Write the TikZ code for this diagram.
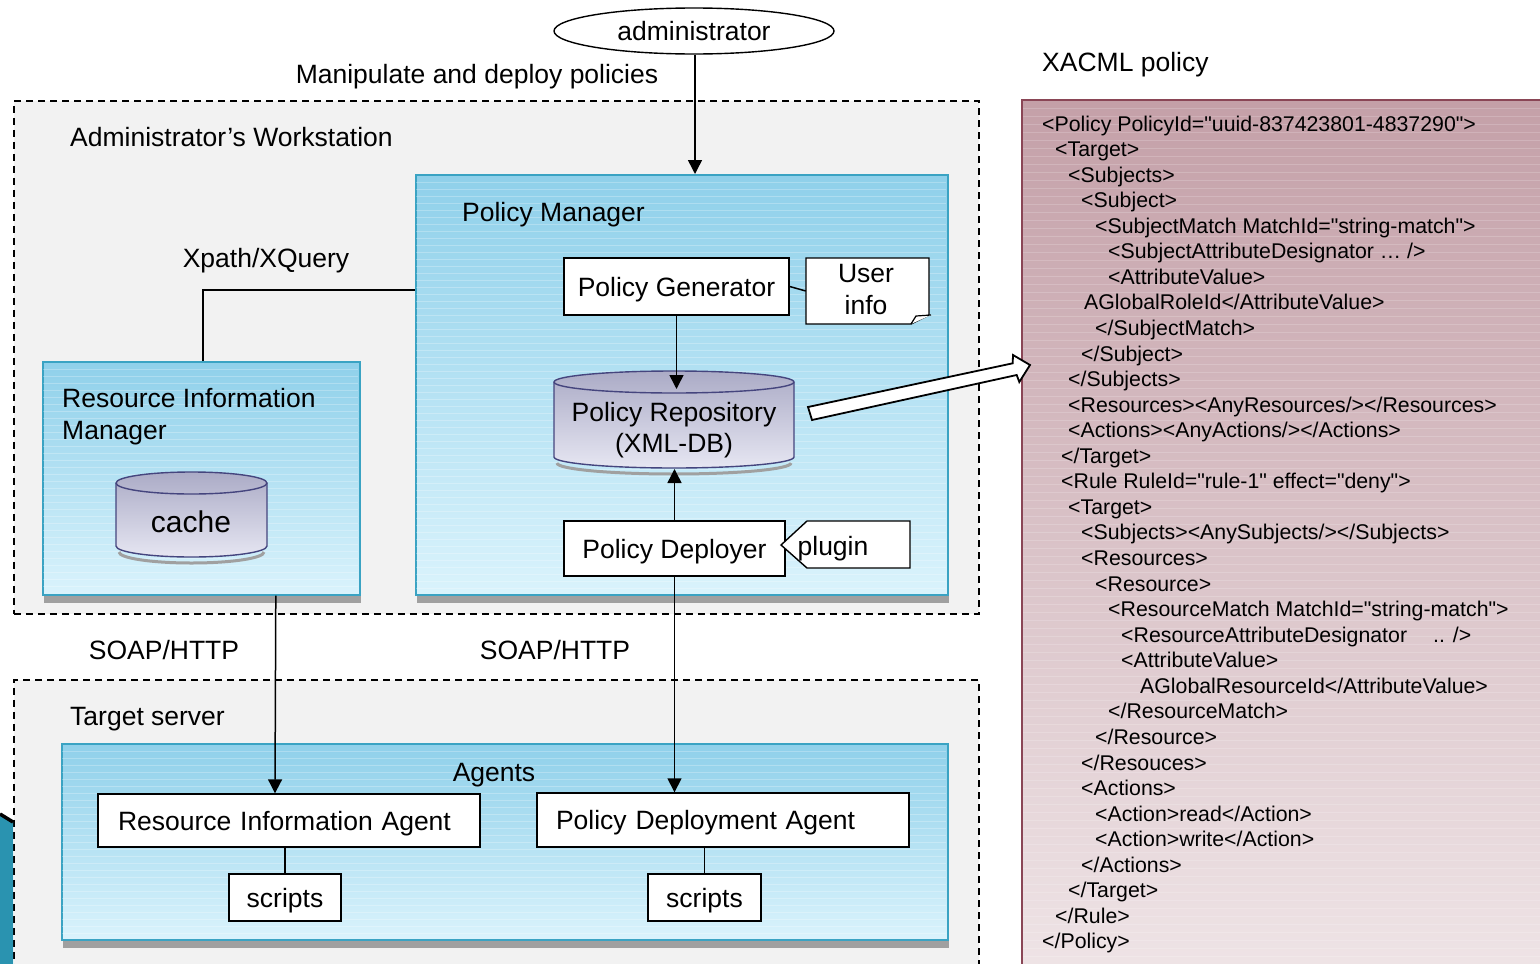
\documentclass[tikz,border=0pt]{standalone}
\usepackage{fontspec}
\setmainfont{Liberation Sans}
\newfontfamily\xmlfont{Liberation Sans}[Ligatures=TeXOff]
\usetikzlibrary{arrows.meta,calc,shapes.geometric}
\definecolor{wsgray}{HTML}{F2F2F2}
\definecolor{bluetop}{HTML}{8FD0EA}
\definecolor{bluebot}{HTML}{DAF3FC}
\definecolor{bluebd}{HTML}{3AA3C3}
\definecolor{shadowgray}{HTML}{A0A0A0}
\definecolor{xtop}{HTML}{C4A0A8}
\definecolor{xbot}{HTML}{F0E6E8}
\definecolor{xbd}{HTML}{8A4656}
\definecolor{cyltop}{HTML}{ABABC6}
\definecolor{cylbot}{HTML}{E6E6F2}
\definecolor{cylbd}{HTML}{45457E}
\definecolor{artblue}{HTML}{2A93B0}
\newcommand\xl[3]{\node[xml] (xl#2) at (#1,{131+25.56*(#2-1)}) {#3};}
\begin{document}
\begin{tikzpicture}[x=1pt,y=-1pt,
 lbl/.style={font=\fontsize{26.5}{31}\selectfont, inner sep=0pt, text height=25pt, text depth=5.5pt},
 mlbl/.style={font=\fontsize{26.5}{32}\selectfont, inner sep=0pt, yshift=-3pt},
 xml/.style={font=\xmlfont\fontsize{21.3}{25}\selectfont, inner sep=0pt, anchor=base west},
 dashbox/.style={draw, dash pattern=on 7pt off 5pt, fill=wsgray, line width=1.8pt, inner sep=0pt, anchor=north west},
 bluebox/.style={draw=bluebd, line width=1.6pt, top color=bluetop, bottom color=bluebot, inner sep=0pt, anchor=north west},
 wbox/.style={draw, fill=white, line width=1.4pt, inner sep=0pt, font=\fontsize{26.5}{31}\selectfont, text height=25pt, text depth=5.5pt},
 arr/.style={line width=1.5pt, -{Triangle[length=14pt,width=14pt]}},
 conn/.style={line width=1.5pt},
 stripe/.style={white, opacity=0.25, line width=0.8pt},
]
\useasboundingbox (0,0) rectangle (1540,964);
\fill[white] (0,0) rectangle (1540,964);
\clip (0,0) rectangle (1540,964);

% containers
\node[dashbox, minimum width=965pt, minimum height=513pt] (ws) at (13,100) {};
\node[dashbox, minimum width=965pt, minimum height=330pt] (ts) at (13,679) {};
\node[lbl, anchor=west] (wslbl) at (70,137) {Administrator’s Workstation};
\node[lbl, anchor=west] (tslbl) at (70,716) {Target server};

% artifact bottom-left
\fill[artblue] (0,814) -- (13,822) -- (13,964) -- (0,964) -- cycle;
\draw[line width=3.5pt] (0,814) -- (13,822);

% XACML box
\draw[draw=xbd, line width=2pt, top color=xtop, bottom color=xbot] (1022,100) rectangle (1580,1000);
\foreach \yy in {108,116,...,964} {\draw[stripe, opacity=0.18] (1023,\yy) -- (1540,\yy);}
\node[lbl, anchor=west] (xacml) at (1042,62) {XACML policy};

% blue boxes with shadows
\fill[shadowgray] (417,182) rectangle (949,603);
\node[bluebox, minimum width=532pt, minimum height=420pt] (pm) at (415,174) {};
\foreach \yy in {182,189,...,590} {\draw[stripe] (416,\yy) -- (946,\yy);}
\fill[shadowgray] (44,369) rectangle (361,603);
\node[bluebox, minimum width=317pt, minimum height=233pt] (rim) at (42,361) {};
\foreach \yy in {369,376,...,590} {\draw[stripe] (43,\yy) -- (358,\yy);}
\fill[shadowgray] (63,751) rectangle (949,948);
\node[bluebox, minimum width=886pt, minimum height=196pt] (ag) at (61,743) {};
\foreach \yy in {751,758,...,935} {\draw[stripe] (62,\yy) -- (946,\yy);}

\node[lbl, anchor=west] (pmlbl) at (462,212) {Policy Manager};
\node[mlbl, anchor=west, align=left] (rimlbl) at (62,414) {Resource Information\\Manager};
\node[lbl] (aglbl) at (494,772) {Agents};

% administrator
\node[draw, ellipse, line width=1.4pt, fill=white, minimum width=280pt, minimum height=46pt, inner sep=0pt, font=\fontsize{26.5}{31}\selectfont] (adm) at (694,31) {\raisebox{-2.5pt}{administrator}};
\node[lbl] (manip) at (477,74) {Manipulate and deploy policies};
\draw[arr] (adm.south -| 695,0) -- (pm.north -| 695,0);

% Xpath
\node[lbl] (xpath) at (266,258) {Xpath/XQuery};
\draw[conn] ([xshift=1.5pt]rim.north) |- ([yshift=95pt]pm.west);

% policy generator and user info
\node[wbox, minimum width=225pt, minimum height=57pt] (pg) at (676.5,286.5) {Policy Generator};
\node[inner sep=0pt, minimum width=123pt, minimum height=66pt] (ui) at (867.5,291) {};
\draw[line width=1.4pt, fill=white] (806,258) -- (929,258) -- (929,315) -- (911,324) -- (806,324) -- cycle;
\draw[line width=1.2pt, fill=white] (911,324) -- (916,316) -- (931,315);
\node[mlbl, align=center, yshift=2pt] (uitxt) at (866,289) {User\\info};
\draw[conn] (pg.east) -- (ui.west);

% policy repository cylinder
\draw[shadowgray, line width=3pt] (557,463) arc[start angle=180, end angle=360, x radius=117pt, y radius=11pt];
\draw[draw=cylbd, line width=1.4pt, top color=cyltop, bottom color=cylbot] (554,382) -- (554,457) arc[start angle=180, end angle=360, x radius=120pt, y radius=11pt] -- (794,382) arc[start angle=0, end angle=180, x radius=120pt, y radius=11pt] -- cycle;
\draw[draw=cylbd, line width=1.4pt] (554,382) arc[start angle=180, end angle=360, x radius=120pt, y radius=11pt];
\node[mlbl, align=center, font=\fontsize{26.5}{31}\selectfont] (repo) at (674,427) {Policy Repository\\(XML-DB)};
\coordinate (repotop) at (677,389);
\coordinate (repobot) at (675,469);
\draw[arr] (pg.south) -- (pg.south |- repotop);

% policy deployer and plugin
\node[wbox, minimum width=221pt, minimum height=55pt] (pd) at (674.5,548.5) {Policy Deployer};
\draw[line width=1.4pt, fill=white] (781,545) -- (807,521) -- (910,521) -- (910,568) -- (807,568) -- cycle;
\node[lbl] (plg) at (833,546) {plugin};
\draw[arr] (pd.north) -- (pd.north |- repobot);

% cache cylinder
\draw[shadowgray, line width=3pt] (119,552) arc[start angle=180, end angle=360, x radius=72.5pt, y radius=11pt];
\draw[draw=cylbd, line width=1.4pt, top color=cyltop, bottom color=cylbot] (116,483) -- (116,546) arc[start angle=180, end angle=360, x radius=75.5pt, y radius=11pt] -- (267,483) arc[start angle=0, end angle=180, x radius=75.5pt, y radius=11pt] -- cycle;
\draw[draw=cylbd, line width=1.4pt] (116,483) arc[start angle=180, end angle=360, x radius=75.5pt, y radius=11pt];
\node[inner sep=0pt, font=\fontsize{30}{34}\selectfont, yshift=-1pt] (cache) at (191,521) {cache};

% agents
\node[wbox, minimum width=382pt, minimum height=53pt, inner xsep=20pt, text width=342pt, align=left] (ria) at (289,820.5) {Resource Information Agent};
\node[wbox, minimum width=372pt, minimum height=54pt, inner xsep=19pt, text width=334pt, align=left] (pda) at (723,820) {Policy Deployment Agent};
\node[wbox, minimum width=112pt, minimum height=47pt] (s1) at (285,897.5) {scripts};
\node[wbox, minimum width=113pt, minimum height=47pt] (s2) at (704.5,897.5) {scripts};
\draw[conn] (ria.south -| s1.north) -- (s1.north);
\draw[conn] (pda.south -| s2.north) -- (s2.north);

% SOAP connectors
\node[lbl] (soap1) at (164,650) {SOAP/HTTP};
\node[lbl] (soap2) at (555,650) {SOAP/HTTP};
\draw[arr] ([xshift=74.5pt]rim.south) -- ([xshift=-14pt]ria.north);
\draw[arr] (pd.south) -- (pd.south |- pda.north);

% big hollow arrow
\draw[line width=1.8pt, fill=white] (808,407) -- (1012.7,363.3) -- (1013,355) -- (1030,365) -- (1019.3,382) -- (1016.7,375) -- (812,420) -- cycle;

% XACML text
\xl{1042}{1}{<Policy PolicyId="uuid-837423801-4837290">}
\xl{1055}{2}{<Target>}
\xl{1068}{3}{<Subjects>}
\xl{1081}{4}{<Subject>}
\xl{1095}{5}{<SubjectMatch MatchId="string-match">}
\xl{1108}{6}{<SubjectAttributeDesignator … />}
\xl{1108}{7}{<AttributeValue>}
\xl{1084}{8}{AGlobalRoleId</AttributeValue>}
\xl{1095}{9}{</SubjectMatch>}
\xl{1081}{10}{</Subject>}
\xl{1068}{11}{</Subjects>}
\xl{1068}{12}{<Resources><AnyResources/></Resources>}
\xl{1068}{13}{<Actions><AnyActions/></Actions>}
\xl{1061}{14}{</Target>}
\xl{1061}{15}{<Rule RuleId="rule-1" effect="deny">}
\xl{1068}{16}{<Target>}
\xl{1081}{17}{<Subjects><AnySubjects/></Subjects>}
\xl{1081}{18}{<Resources>}
\xl{1095}{19}{<Resource>}
\xl{1108}{20}{<ResourceMatch MatchId="string-match">}
\xl{1121}{21}{<ResourceAttributeDesignator\hspace{26pt}.. />}
\xl{1121}{22}{<AttributeValue>}
\xl{1140}{23}{AGlobalResourceId</AttributeValue>}
\xl{1108}{24}{</ResourceMatch>}
\xl{1095}{25}{</Resource>}
\xl{1081}{26}{</Resouces>}
\xl{1081}{27}{<Actions>}
\xl{1095}{28}{<Action>read</Action>}
\xl{1095}{29}{<Action>write</Action>}
\xl{1081}{30}{</Actions>}
\xl{1068}{31}{</Target>}
\xl{1055}{32}{</Rule>}
\xl{1042}{33}{</Policy>}
\end{tikzpicture}
\end{document}
